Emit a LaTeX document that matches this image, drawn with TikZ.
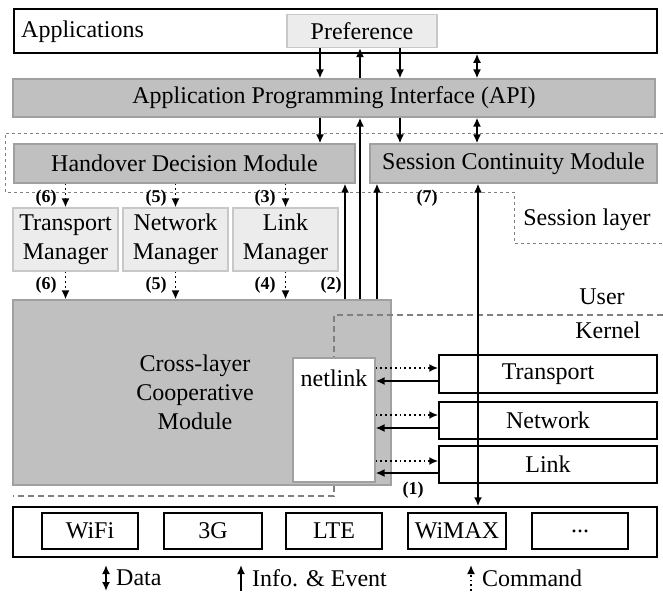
\documentclass[tikz,border=0pt]{standalone}
\usepackage{fontspec}
\setmainfont{Liberation Serif}
\usetikzlibrary{arrows.meta}
\definecolor{boxgray}{RGB}{192,192,192}
\definecolor{boxedge}{RGB}{160,160,160}
\definecolor{lightfill}{RGB}{236,236,236}
\definecolor{lightedge}{RGB}{200,200,200}
\definecolor{dashgray}{RGB}{128,128,128}
\begin{document}
\begin{tikzpicture}[x=1pt,y=-1pt, font=\fontsize{24}{29}\selectfont,
  box/.style={draw, line width=1.5pt, inner sep=0pt, fill=white},
  graybox/.style={draw=boxedge, fill=boxgray, line width=1.2pt, inner sep=0pt},
  mgrbox/.style={draw=lightedge, fill=lightfill, line width=1.2pt, inner sep=0pt, align=center},
  info/.style={line width=1.8pt, -{Latex[length=9pt,width=8pt]}},
  data/.style={line width=1.8pt, {Latex[length=9pt,width=8pt]}-{Latex[length=9pt,width=8pt]}},
  cmd/.style={line width=1.8pt, dash pattern=on 1.8pt off 3pt, -{Latex[length=9pt,width=8pt]}},
  lbl/.style={font=\fontsize{18}{19}\selectfont\bfseries, inner sep=0pt},
  txt/.style={inner sep=0pt},
  sdash/.style={draw=dashgray, line width=1pt, dash pattern=on 3pt off 3pt},
  kdash/.style={draw=dashgray, line width=2pt, dash pattern=on 6pt off 4pt},
]
\useasboundingbox (0,0) rectangle (663,592);

% column / row coordinates
\coordinate (x320) at (320,0);
\coordinate (x345) at (345,0);
\coordinate (x360) at (360,0);
\coordinate (x377) at (377,0);
\coordinate (x400) at (400,0);
\coordinate (x477) at (477,0);
\coordinate (x478) at (478,0);
\coordinate (r1d) at (0,368);
\coordinate (r1s) at (0,381);
\coordinate (r2d) at (0,415);
\coordinate (r2s) at (0,428);
\coordinate (r3d) at (0,461);
\coordinate (r3s) at (0,473);

% Applications
\node[box, minimum width=643pt, minimum height=44pt] (apps) at (335.5,31) {};
\node[txt, anchor=west] (appstxt) at (21,32) {Applications};
\node[mgrbox, minimum width=150pt, minimum height=33pt] (pref) at (362,31) {Preference};

% API
\node[graybox, minimum width=642pt, minimum height=38pt] (api) at (334,98) {Application Programming Interface (API)};

% session layer dashed boundary
\draw[sdash] (663,133) -- (5,133) -- (5,192) -- (514,192) -- (514,243) -- (663,243);
\node[txt] (sess) at (587,220) {Session layer};

% modules
\node[graybox, minimum width=341pt, minimum height=39pt] (hdm) at (184.5,163.5) {Handover Decision Module};
\node[graybox, minimum width=287pt, minimum height=39pt] (scm) at (513.5,163.5) {Session Continuity Module};

% managers
\node[mgrbox, minimum width=105pt, minimum height=63pt] (tm) at (65.5,239.5) {Transport\\Manager};
\node[mgrbox, minimum width=105pt, minimum height=63pt] (nm) at (175.5,239.5) {Network\\Manager};
\node[mgrbox, minimum width=105pt, minimum height=63pt] (lm) at (285.5,239.5) {Link\\Manager};

% cross-layer module
\node[graybox, minimum width=378pt, minimum height=185pt] (clcm) at (202,392.5) {};
\node[txt, align=center] (clcmtxt) at (195,392) {Cross-layer\\Cooperative\\Module};

% user / kernel boundary
\draw[kdash] (663,315) -- (334,315) -- (334,496) -- (13,496);
\node[txt] (user) at (602,297) {User};
\node[txt] (kern) at (608,330) {Kernel};

% netlink
\node[draw=boxedge, fill=white, line width=1.2pt, inner sep=0pt, minimum width=82pt, minimum height=124pt] (netlink) at (334,420) {};
\node[txt] (nltxt) at (334,378) {netlink};

% kernel layers
\node[box, minimum width=218pt, minimum height=38pt] (tr) at (548,374) {Transport};
\node[box, minimum width=218pt, minimum height=37pt] (nw) at (548,420.5) {Network};
\node[box, minimum width=218pt, minimum height=37pt] (lk) at (548,464.5) {Link};

% interfaces
\node[box, minimum width=644pt, minimum height=50pt] (bot) at (335,532) {};
\node[box, minimum width=96pt, minimum height=36pt] (wifi) at (90,531) {WiFi};
\node[box, minimum width=98pt, minimum height=36pt] (g3) at (213,531) {3G};
\node[box, minimum width=96pt, minimum height=36pt] (lte) at (334,531) {LTE};
\node[box, minimum width=98pt, minimum height=36pt] (wimax) at (457,531) {WiMAX};
\node[box, minimum width=96pt, minimum height=36pt] (dots) at (580,531) {...};

% arrows between applications and API
\draw[info] (pref.south -| x320) -- (api.north -| x320);
\draw[info] (api.north -| x360) -- (pref.south -| x360);
\draw[info] (pref.south -| x400) -- (api.north -| x400);
\draw[data] (apps.south -| x477) -- (api.north -| x477);

% arrows between API and modules
\draw[info] (api.south -| x320) -- (hdm.north -| x320);
\draw[info] (api.south -| x400) -- (scm.north -| x400);
\draw[data] (api.south -| x477) -- (scm.north -| x477);
\draw[info] (clcm.north -| x360) -- (api.south -| x360);
\draw[info] (clcm.north -| x345) -- (hdm.south -| x345);
\draw[info] (clcm.north -| x377) -- (scm.south -| x377);
\draw[data] (scm.south -| x478) -- (bot.north -| x478);

% commands
\draw[cmd] (hdm.south -| tm.north) -- (tm.north);
\draw[cmd] (hdm.south -| nm.north) -- (nm.north);
\draw[cmd] (hdm.south -| lm.north) -- (lm.north);
\draw[cmd] (tm.south) -- (clcm.north -| tm.south);
\draw[cmd] (nm.south) -- (clcm.north -| nm.south);
\draw[cmd] (lm.south) -- (clcm.north -| lm.south);

% netlink arrows
\draw[cmd] (netlink.east |- r1d) -- (tr.west |- r1d);
\draw[info] (tr.west |- r1s) -- (netlink.east |- r1s);
\draw[cmd] (netlink.east |- r2d) -- (nw.west |- r2d);
\draw[info] (nw.west |- r2s) -- (netlink.east |- r2s);
\draw[cmd] (netlink.east |- r3d) -- (lk.west |- r3d);
\draw[info] (lk.west |- r3s) -- (netlink.east |- r3s);

% step labels
\node[lbl] (l6a) at (46,198) {(6)};
\node[lbl] (l5a) at (156,198) {(5)};
\node[lbl] (l3a) at (265,198) {(3)};
\node[lbl] (l6b) at (46,285) {(6)};
\node[lbl] (l5b) at (156,285) {(5)};
\node[lbl] (l4b) at (265,285) {(4)};
\node[lbl] (l2) at (331,285) {(2)};
\node[lbl] (l7) at (427,198) {(7)};
\node[lbl] (l1) at (413,490) {(1)};

% legend
\coordinate (lda) at (106,565);
\coordinate (ldb) at (106,591);
\draw[data] (ldb) -- (lda);
\node[txt, anchor=west] (ldata) at (116,578) {Data};
\coordinate (lia) at (241,565);
\coordinate (lib) at (241,591);
\draw[info] (lib) -- (lia);
\node[txt, anchor=west] (linfo) at (252,578) {Info. \& Event};
\coordinate (lca) at (471,565);
\coordinate (lcb) at (471,591);
\draw[cmd] (lcb) -- (lca);
\node[txt, anchor=west] (lcmd) at (482,578) {Command};
\end{tikzpicture}
\end{document}
